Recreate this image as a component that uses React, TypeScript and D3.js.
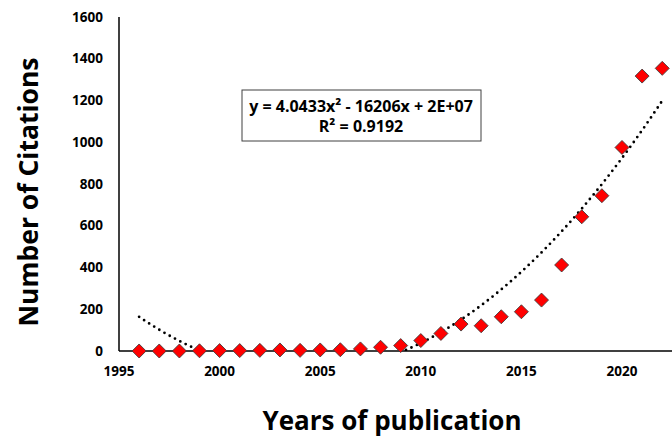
import * as d3 from 'd3';
import { useEffect, useRef } from 'react';

const width = 672;
const height = 438;

// data
const years = [
  1996, 1997, 1998, 1999, 2000, 2001, 2002, 2003, 2004, 2005, 2006, 2007, 2008,
  2009, 2010, 2011, 2012, 2013, 2014, 2015, 2016, 2017, 2018, 2019, 2020, 2021,
  2022,
];
const citations = [
  0, 0, 0, 1, 2, 2, 3, 5, 3, 5, 6, 10, 18, 26, 50, 84, 129, 121, 164, 188, 244,
  412, 643, 744, 975, 1317, 1354,
];
const yTicks = [0, 200, 400, 600, 800, 1000, 1200, 1400, 1600];
const xTicks = [1995, 2000, 2005, 2010, 2015, 2020];
const equationLines = ['y = 4.0433x² - 16206x + 2E+07', 'R² = 0.9192'];

const plot = { left: 119, top: 17, bottom: 351 };
const font = "'Open Sans', 'Liberation Sans', sans-serif";

// least squares quadratic, x centred for stability
function quadFit(xs: number[], ys: number[]) {
  const m = d3.mean(xs) as number;
  const s = [0, 0, 0, 0, 0];
  const t = [0, 0, 0];
  xs.forEach((x, i) => {
    const u = x - m;
    for (let k = 0; k < 5; k++) s[k] += u ** k;
    for (let k = 0; k < 3; k++) t[k] += ys[i] * u ** k;
  });
  const A = [
    [s[0], s[1], s[2], t[0]],
    [s[1], s[2], s[3], t[1]],
    [s[2], s[3], s[4], t[2]],
  ];
  for (let i = 0; i < 3; i++) {
    for (let j = i + 1; j < 3; j++) {
      const f = A[j][i] / A[i][i];
      for (let k = i; k < 4; k++) A[j][k] -= f * A[i][k];
    }
  }
  const c = [0, 0, 0];
  for (let i = 2; i >= 0; i--) {
    let v = A[i][3];
    for (let k = i + 1; k < 3; k++) v -= A[i][k] * c[k];
    c[i] = v / A[i][i];
  }
  return (x: number) => c[0] + c[1] * (x - m) + c[2] * (x - m) ** 2;
}

export default function App() {
  const svgRef = useRef<SVGSVGElement>(null);

  useEffect(() => {
    const svg = d3.select(svgRef.current);
    svg.selectAll('*').remove();

    const x = d3
      .scaleLinear()
      .domain([1995, 2025])
      .range([plot.left, plot.left + 30 * 20.12]);
    const y = d3.scaleLinear().domain([0, 1600]).range([plot.bottom, plot.top]);

    svg
      .append('defs')
      .append('clipPath')
      .attr('id', 'plotClip')
      .append('rect')
      .attr('x', plot.left)
      .attr('y', plot.top)
      .attr('width', width - plot.left)
      .attr('height', plot.bottom - plot.top);

    // axes
    svg
      .append('line')
      .attr('x1', plot.left)
      .attr('x2', plot.left)
      .attr('y1', plot.top)
      .attr('y2', plot.bottom)
      .attr('stroke', '#000')
      .attr('stroke-width', 1.5);
    svg
      .append('line')
      .attr('x1', plot.left)
      .attr('x2', width)
      .attr('y1', plot.bottom)
      .attr('y2', plot.bottom)
      .attr('stroke', '#000')
      .attr('stroke-width', 1.5);

    svg
      .append('g')
      .selectAll('text')
      .data(yTicks)
      .join('text')
      .attr('x', 103)
      .attr('y', (d) => y(d))
      .attr('dy', '0.35em')
      .attr('text-anchor', 'end')
      .attr('font-family', font)
      .attr('font-weight', 700)
      .attr('font-size', 13.5)
      .text((d) => d);

    svg
      .append('g')
      .selectAll('text')
      .data(xTicks)
      .join('text')
      .attr('x', (d) => x(d))
      .attr('y', 376)
      .attr('text-anchor', 'middle')
      .attr('font-family', font)
      .attr('font-weight', 700)
      .attr('font-size', 13.5)
      .text((d) => d);

    // trendline
    const fit = quadFit(years, citations);
    const xs = d3.range(years[0], years[years.length - 1] + 0.001, 0.1);
    svg
      .append('path')
      .datum(xs)
      .attr('clip-path', 'url(#plotClip)')
      .attr('fill', 'none')
      .attr('stroke', '#000')
      .attr('stroke-width', 2.8)
      .attr('stroke-linecap', 'round')
      .attr('stroke-dasharray', '0 6')
      .attr(
        'd',
        d3
          .line<number>()
          .x((d) => x(d))
          .y((d) => y(fit(d)))
      );

    // markers
    svg
      .append('g')
      .selectAll('path')
      .data(years)
      .join('path')
      .attr('transform', (d, i) => `translate(${x(d)},${y(citations[i])}) rotate(45)`)
      .attr('d', d3.symbol(d3.symbolSquare, 98)())
      .attr('fill', '#ff0000')
      .attr('stroke', '#3a3a3a')
      .attr('stroke-width', 0.8);

    // equation box
    const box = svg.append('g');
    box
      .append('rect')
      .attr('x', 242)
      .attr('y', 90)
      .attr('width', 239)
      .attr('height', 51)
      .attr('fill', '#fff')
      .attr('stroke', '#404040')
      .attr('stroke-width', 1);
    box
      .selectAll('text')
      .data(equationLines)
      .join('text')
      .attr('x', 361)
      .attr('y', (d, i) => 112 + i * 20)
      .attr('text-anchor', 'middle')
      .attr('font-family', font)
      .attr('font-weight', 700)
      .attr('font-size', 16)
      .text((d) => d);

    // titles
    svg
      .append('text')
      .attr('transform', `translate(38,${(plot.top + plot.bottom) / 2 + 8}) rotate(-90)`)
      .attr('text-anchor', 'middle')
      .attr('font-family', font)
      .attr('font-weight', 700)
      .attr('font-size', 26.5)
      .text('Number of Citations');
    svg
      .append('text')
      .attr('x', 392)
      .attr('y', 430)
      .attr('text-anchor', 'middle')
      .attr('font-family', font)
      .attr('font-weight', 700)
      .attr('font-size', 26)
      .text('Years of publication');
  }, []);

  return (
    <svg
      ref={svgRef}
      width={width}
      height={height}
      style={{ position: 'absolute', left: 0, top: 0, background: '#fff' }}
    />
  );
}
